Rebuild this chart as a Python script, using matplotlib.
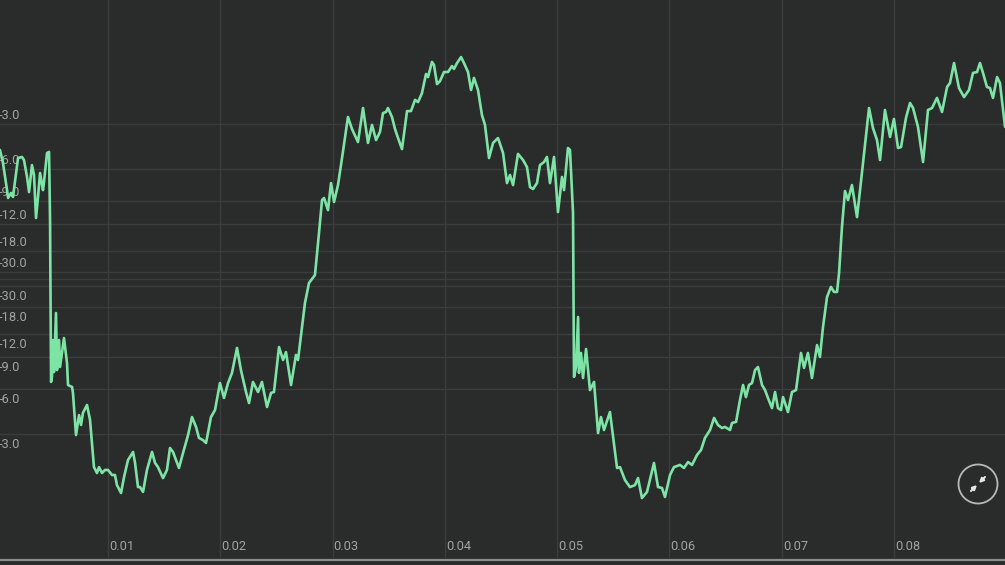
import matplotlib
matplotlib.use("Agg")
import matplotlib.pyplot as plt
import matplotlib.transforms as mtransforms
from matplotlib.patches import Circle, FancyArrowPatch

# ---- data ----
time_s = [
    0.00038, 0.00065, 0.00101, 0.00110, 0.00136, 0.00154, 0.00199, 0.00234, 0.00252, 0.00279,
    0.00297, 0.00323, 0.00341, 0.00359, 0.00377, 0.00395, 0.00421, 0.00430, 0.00457, 0.00475,
    0.00484, 0.00493, 0.00501, 0.00510, 0.00519, 0.00537, 0.00546, 0.00564, 0.00573, 0.00590,
    0.00608, 0.00635, 0.00644, 0.00680, 0.00688, 0.00715, 0.00742, 0.00760, 0.00777, 0.00813,
    0.00840, 0.00875, 0.00902, 0.00920, 0.00947, 0.00973, 0.01000, 0.01036, 0.01062, 0.01080,
    0.01116, 0.01143, 0.01178, 0.01223, 0.01241, 0.01267, 0.01285, 0.01312, 0.01347, 0.01392,
    0.01419, 0.01445, 0.01490, 0.01525, 0.01552, 0.01579, 0.01632, 0.01668, 0.01713, 0.01748,
    0.01784, 0.01810, 0.01846, 0.01873, 0.01917, 0.01953, 0.01997, 0.02033, 0.02069, 0.02104,
    0.02149, 0.02184, 0.02229, 0.02256, 0.02291, 0.02336, 0.02371, 0.02416, 0.02452, 0.02478,
    0.02523, 0.02559, 0.02585, 0.02630, 0.02674, 0.02692, 0.02754, 0.02790, 0.02843, 0.02879,
    0.02906, 0.02924, 0.02959, 0.02986, 0.03013, 0.03048, 0.03084, 0.03137, 0.03173, 0.03226,
    0.03271, 0.03315, 0.03351, 0.03387, 0.03422, 0.03449, 0.03476, 0.03493, 0.03529, 0.03556,
    0.03583, 0.03618, 0.03663, 0.03698, 0.03734, 0.03761, 0.03796, 0.03832, 0.03850, 0.03885,
    0.03903, 0.03930, 0.03957, 0.03992, 0.04028, 0.04063, 0.04081, 0.04108, 0.04144, 0.04170,
    0.04206, 0.04233, 0.04259, 0.04295, 0.04330, 0.04357, 0.04393, 0.04429, 0.04473, 0.04518,
    0.04553, 0.04580, 0.04607, 0.04651, 0.04696, 0.04731, 0.04758, 0.04785, 0.04820, 0.04847,
    0.04883, 0.04909, 0.04936, 0.04972, 0.05007, 0.05043, 0.05061, 0.05096, 0.05114, 0.05141,
    0.05150, 0.05168, 0.05186, 0.05194, 0.05212, 0.05230, 0.05257, 0.05292, 0.05328, 0.05364,
    0.05390, 0.05417, 0.05470, 0.05533, 0.05559, 0.05604, 0.05648, 0.05693, 0.05720, 0.05755,
    0.05800, 0.05862, 0.05898, 0.05933, 0.05960, 0.06005, 0.06040, 0.06094, 0.06129, 0.06165,
    0.06201, 0.06245, 0.06281, 0.06316, 0.06361, 0.06397, 0.06432, 0.06468, 0.06494, 0.06539,
    0.06557, 0.06593, 0.06628, 0.06655, 0.06681, 0.06708, 0.06735, 0.06762, 0.06788, 0.06824,
    0.06851, 0.06877, 0.06913, 0.06940, 0.06966, 0.06993, 0.07011, 0.07055, 0.07091, 0.07127,
    0.07171, 0.07198, 0.07233, 0.07269, 0.07314, 0.07340, 0.07367, 0.07403, 0.07438, 0.07465,
    0.07492, 0.07510, 0.07536, 0.07563, 0.07590, 0.07625, 0.07670, 0.07697, 0.07723, 0.07777,
    0.07812, 0.07848, 0.07875, 0.07919, 0.07964, 0.07999, 0.08035, 0.08062, 0.08106, 0.08142,
    0.08169, 0.08213, 0.08258, 0.08302, 0.08338, 0.08382, 0.08427, 0.08472, 0.08498, 0.08534,
    0.08578, 0.08623, 0.08667, 0.08703, 0.08739, 0.08765, 0.08792, 0.08827, 0.08854, 0.08881,
    0.08917, 0.08943, 0.08988,
]
amplitude = [
    0.588, 0.528, 0.405, 0.369, 0.392, 0.374, 0.551, 0.556, 0.542, 0.465,
    0.396, 0.519, 0.474, 0.278, 0.374, 0.483, 0.405, 0.442, 0.574, 0.579,
    0.269, -0.469, -0.446, -0.278, -0.424, -0.155, -0.415, -0.278, -0.401, -0.337,
    -0.269, -0.383, -0.483, -0.492, -0.519, -0.711, -0.620, -0.665, -0.610, -0.574,
    -0.642, -0.857, -0.884, -0.857, -0.884, -0.870, -0.870, -0.893, -0.893, -0.939,
    -0.975, -0.902, -0.825, -0.788, -0.838, -0.948, -0.948, -0.970, -0.870, -0.788,
    -0.838, -0.857, -0.907, -0.870, -0.770, -0.788, -0.861, -0.793, -0.711, -0.629,
    -0.674, -0.724, -0.734, -0.747, -0.629, -0.597, -0.474, -0.542, -0.474, -0.428,
    -0.314, -0.415, -0.515, -0.565, -0.469, -0.515, -0.469, -0.583, -0.519, -0.515,
    -0.310, -0.369, -0.333, -0.483, -0.346, -0.369, -0.109, -0.018, 0.018, 0.210,
    0.360, 0.369, 0.314, 0.437, 0.351, 0.428, 0.551, 0.738, 0.683, 0.624,
    0.779, 0.620, 0.702, 0.633, 0.670, 0.756, 0.761, 0.779, 0.738, 0.683,
    0.642, 0.592, 0.765, 0.765, 0.816, 0.806, 0.847, 0.934, 0.920, 0.989,
    0.975, 0.888, 0.902, 0.943, 0.943, 0.970, 0.957, 0.984, 1.011, 0.984,
    0.943, 0.861, 0.916, 0.861, 0.747, 0.702, 0.551, 0.620, 0.642, 0.574,
    0.437, 0.474, 0.428, 0.570, 0.542, 0.510, 0.419, 0.410, 0.437, 0.519,
    0.533, 0.556, 0.437, 0.556, 0.305, 0.465, 0.405, 0.597, 0.588, 0.301,
    -0.446, -0.401, -0.173, -0.428, -0.337, -0.451, -0.319, -0.506, -0.469, -0.702,
    -0.629, -0.688, -0.606, -0.861, -0.857, -0.916, -0.948, -0.939, -0.907, -0.998,
    -0.970, -0.838, -0.948, -0.952, -0.993, -0.893, -0.857, -0.847, -0.861, -0.834,
    -0.847, -0.802, -0.779, -0.724, -0.688, -0.633, -0.665, -0.679, -0.674, -0.688,
    -0.656, -0.651, -0.551, -0.483, -0.538, -0.483, -0.474, -0.415, -0.401, -0.483,
    -0.506, -0.542, -0.588, -0.515, -0.588, -0.597, -0.538, -0.606, -0.515, -0.506,
    -0.337, -0.405, -0.337, -0.451, -0.301, -0.355, -0.219, -0.082, -0.036, -0.059,
    -0.059, 0.027, 0.237, 0.401, 0.360, 0.428, 0.282, 0.405, 0.528, 0.779,
    0.688, 0.633, 0.542, 0.770, 0.647, 0.729, 0.597, 0.601, 0.734, 0.802,
    0.779, 0.693, 0.533, 0.770, 0.779, 0.825, 0.761, 0.875, 0.893, 0.984,
    0.870, 0.829, 0.861, 0.939, 0.943, 0.984, 0.939, 0.875, 0.870, 0.825,
    0.920, 0.893, 0.693,
]
x_ticks = [0.01, 0.02, 0.03, 0.04, 0.05, 0.06, 0.07, 0.08]
x_tick_labels = ["0.01", "0.02", "0.03", "0.04", "0.05", "0.06", "0.07", "0.08"]
db_levels = [-3.0, -6.0, -9.0, -12.0, -18.0, -30.0]
db_labels = ["-3.0", "-6.0", "-9.0", "-12.0", "-18.0", "-30.0"]

# ---- style ----
BG = "#2a2c2b"
GRID = "#3b3d3c"
LINE = "#7ee4a6"
TXT = "#a2a4a3"
plt.rcParams["font.family"] = ["Roboto", "DejaVu Sans"]

W, H, DPI = 1005, 565, 100
fig = plt.figure(figsize=(W / DPI, H / DPI), dpi=DPI, facecolor=BG)
ax_h = 558 / H
ax = fig.add_axes([0, 1 - ax_h, 1, ax_h])
ax.set_facecolor(BG)
for s in ax.spines.values():
    s.set_visible(False)
ax.set_xticks([])
ax.set_yticks([])

ax.set_xlim(0.000383, 0.089878)
ax.set_ylim(-1.2711, 1.2711)

# grid
for xt in x_ticks:
    ax.axvline(xt, color=GRID, lw=1.0, zorder=1)
amps = [10 ** (d / 20.0) for d in db_levels]
for a in amps:
    ax.axhline(a, color=GRID, lw=1.0, zorder=1)
    ax.axhline(-a, color=GRID, lw=1.0, zorder=1)
ax.axhline(0, color=GRID, lw=1.0, zorder=1)

# y labels (mirrored dB scale)
blend = mtransforms.blended_transform_factory(ax.transAxes, ax.transData)
up = mtransforms.offset_copy(blend, fig=fig, x=0, y=2, units="dots")
down = mtransforms.offset_copy(blend, fig=fig, x=0, y=-4, units="dots")
for a, lab in zip(amps, db_labels):
    ax.text(-0.001, a, lab, transform=up, ha="left", va="bottom",
            color=TXT, fontsize=9.3, zorder=2)
    ax.text(-0.001, -a, lab, transform=down, ha="left", va="top",
            color=TXT, fontsize=9.3, zorder=2)

# x labels (inside, at bottom)
xblend = mtransforms.blended_transform_factory(ax.transData, ax.transAxes)
xoff = mtransforms.offset_copy(xblend, fig=fig, x=1, y=11, units="dots")
for xt, lab in zip(x_ticks, x_tick_labels):
    ax.text(xt, 0, lab, transform=xoff, ha="left", va="center",
            color=TXT, fontsize=9.3, zorder=2)

# waveform
ax.plot(time_s, amplitude, color=LINE, lw=1.9, solid_joinstyle="round",
        solid_capstyle="round", zorder=3)

# bottom border line
fig.add_artist(plt.Line2D([0, 1], [1 - 559.5 / H, 1 - 559.5 / H],
                          transform=fig.transFigure, color="#8c8e8d", lw=1.6))

# collapse icon (decoration) in figure pixel coordinates
fig_px = mtransforms.IdentityTransform()
circ = Circle((978, H - 484), 19.5, transform=fig_px, fill=False,
              edgecolor="#b8b8b8", lw=1.3)
fig.add_artist(circ)
for (x0, y0), (x1, y1) in [((971, H - 491), (977, H - 485)),
                           ((985, H - 477), (979, H - 483))]:
    fig.add_artist(FancyArrowPatch(
        (x0, y0), (x1, y1), transform=fig_px, arrowstyle="-|>",
        mutation_scale=6, shrinkA=0, shrinkB=0, color="#e8e8e8", lw=1.5))

fig.savefig("out.png", dpi=DPI, facecolor=BG)
